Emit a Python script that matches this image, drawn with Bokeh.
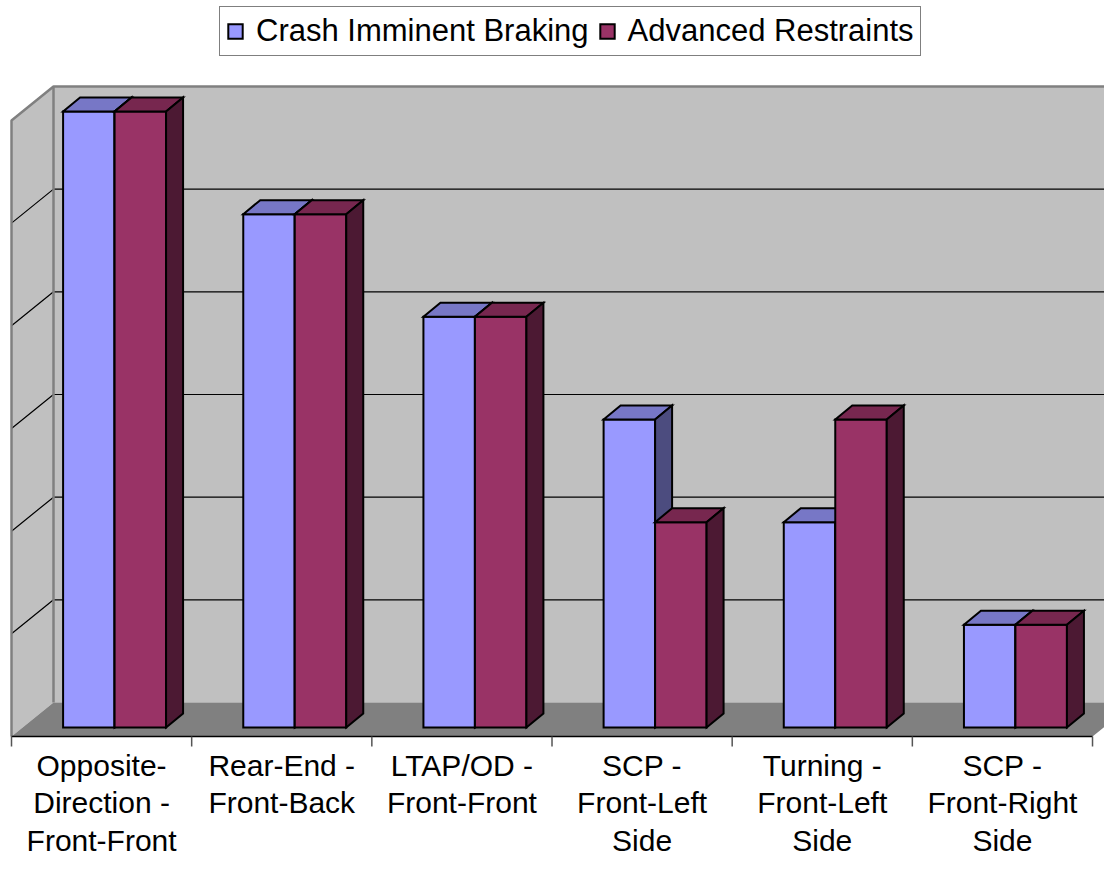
from bokeh.plotting import figure
from bokeh.models import Range1d, Legend, LegendItem, ColumnDataSource
from bokeh.core.properties import value
from bokeh.embed import file_html
from bokeh.resources import INLINE

# ---------------- data ----------------
categories = [
    "Opposite-\nDirection -\nFront-Front",
    "Rear-End -\nFront-Back",
    "LTAP/OD -\nFront-Front",
    "SCP -\nFront-Left\nSide",
    "Turning -\nFront-Left\nSide",
    "SCP -\nFront-Right\nSide",
]
crash_imminent_braking = [6, 5, 4, 3, 2, 1]
advanced_restraints = [6, 5, 4, 2, 3, 1]
series_names = ["Crash Imminent Braking", "Advanced Restraints"]
y_max = 6

# ---------------- layout constants (pixels -> data units) ----------------
W, H = 1104, 856
CW = 180.17      # px per category
U = 102.67       # px per value unit
X0_PX, Y0_PX = 11, 736   # origin (front-left floor corner) inside the canvas
n = len(categories)

def px_x(d):
    return d / CW

def px_y(d):
    return d / U

FDX, FDY = px_x(42), px_y(34)     # floor depth
SDX, SDY = px_x(13), px_y(9)      # bar front offset from floor front edge
BDX, BDY = px_x(17), px_y(14)     # bar depth
BW = 0.2858                       # bar width in category units

x_range = Range1d(-X0_PX / CW, (W - X0_PX) / CW)
y_range = Range1d(-(H - Y0_PX) / U, Y0_PX / U)

p = figure(width=W, height=H, x_range=x_range, y_range=y_range,
           output_backend="svg", toolbar_location=None, min_border=0,
           x_axis_location=None, y_axis_location=None)
p.grid.visible = False
p.outline_line_color = None
p.background_fill_color = "white"
p.border_fill_color = "white"

WALL = "#C0C0C0"
FLOOR = "#808080"
EDGE = "#808080"

# back wall
p.quad(left=[FDX], right=[n + FDX], bottom=[FDY], top=[y_max + FDY],
       fill_color=WALL, line_color=None)
# left wall
p.patch([0, FDX, FDX, 0], [0, FDY, y_max + FDY, y_max], fill_color=WALL, line_color=None)
# floor
p.patch([0, n, n + FDX, FDX], [0, 0, FDY, FDY], fill_color=FLOOR, line_color=None)

# gridlines
gx, gy = [], []
for k in range(1, y_max):
    gx.append([0, FDX, n + FDX])
    gy.append([k, k + FDY, k + FDY])
p.multi_line(gx, gy, line_color="black", line_width=1.2)

# wall edges
p.line([0, 0, FDX, n + FDX], [0, y_max, y_max + FDY, y_max + FDY], line_color=EDGE, line_width=2.5)
p.line([FDX, FDX], [FDY, y_max + FDY], line_color=EDGE, line_width=2.5)

# category axis line and ticks
p.line([0, n], [0, 0], line_color="black", line_width=1.5)
p.segment(x0=list(range(n + 1)), y0=[0] * (n + 1), x1=list(range(n + 1)),
          y1=[-px_y(10)] * (n + 1), line_color="#555555", line_width=1.5)

# ---------------- bars ----------------
def shade(hexcol, f):
    h = hexcol.lstrip("#")
    r, g, b = int(h[0:2], 16), int(h[2:4], 16), int(h[4:6], 16)
    return "#%02x%02x%02x" % (int(r * f), int(g * f), int(b * f))

colors = ["#9999FF", "#993366"]
renderers = []
for s, (vals, col) in enumerate(zip([crash_imminent_braking, advanced_restraints], colors)):
    lefts = [i + 0.5 - BW + s * BW + SDX for i in range(n)]
    rights = [l + BW for l in lefts]
    bottoms = [SDY] * n
    tops = [v + SDY for v in vals]
    src = ColumnDataSource(dict(left=lefts, right=rights, bottom=bottoms, top=tops))
    front = p.quad(left="left", right="right", bottom="bottom", top="top", source=src,
                   fill_color=col, line_color="black", line_width=2, line_join="miter")
    renderers.append(front)
    top_xs = [[l, r, r + BDX, l + BDX] for l, r in zip(lefts, rights)]
    top_ys = [[t, t, t + BDY, t + BDY] for t in tops]
    p.patches(top_xs, top_ys, fill_color=shade(col, 0.78), line_color="black",
              line_width=2, line_join="miter")
    side_xs = [[r, r + BDX, r + BDX, r] for r in rights]
    side_ys = [[b, b + BDY, t + BDY, t] for b, t in zip(bottoms, tops)]
    p.patches(side_xs, side_ys, fill_color=shade(col, 0.5), line_color="black",
              line_width=2, line_join="miter")

# ---------------- category labels ----------------
p.text(x=[i + 0.5 for i in range(n)], y=[-px_y(12)] * n, text=categories,
       text_align="center", text_baseline="top", text_font=value("Liberation Sans"),
       text_font_size="30px", text_line_height=1.15, text_color="black")

# ---------------- legend ----------------
legend = Legend(items=[LegendItem(label=series_names[0], renderers=[renderers[0]]),
                       LegendItem(label=series_names[1], renderers=[renderers[1]])],
                orientation="horizontal", location=(219, 800), margin=0,
                padding=6, spacing=9, label_standoff=12,
                glyph_width=18, glyph_height=18,
                label_text_font="Liberation Sans", label_text_font_size="31px",
                label_text_color="black",
                border_line_color="black", border_line_width=1,
                background_fill_color="white", background_fill_alpha=1)
p.add_layout(legend)

open("out.html", "w").write(file_html(p, INLINE))
